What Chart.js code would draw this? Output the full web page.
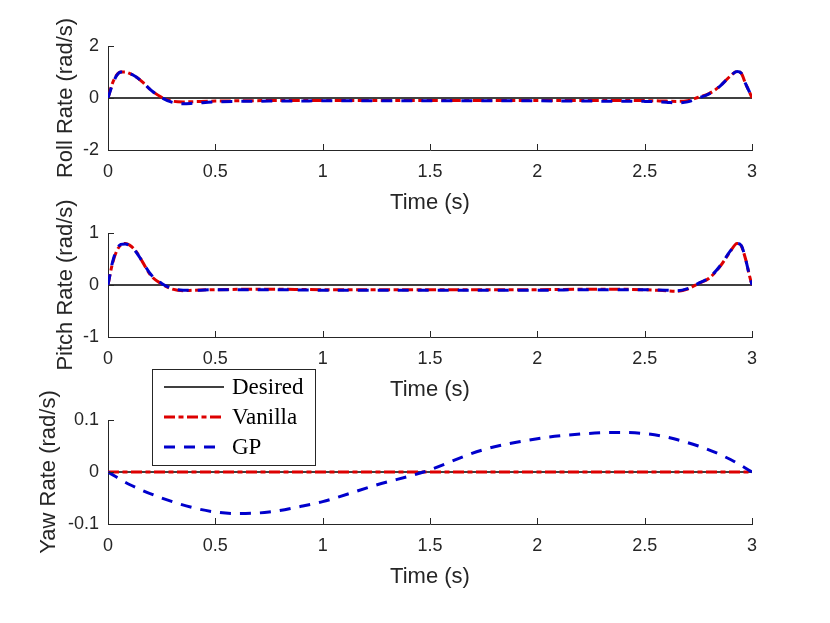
<!DOCTYPE html>
<html>
<head>
<meta charset="utf-8">
<script src="https://cdn.jsdelivr.net/npm/chart.js@4.4.1/dist/chart.umd.min.js"></script>
<style>
  html, body { margin: 0; padding: 0; background: #fff; }
  #fig { position: relative; width: 830px; height: 623px; overflow: hidden; }
  #fig canvas { position: absolute; left: 0; }
</style>
</head>
<body>
<div id="fig">
  <canvas id="roll"></canvas>
  <canvas id="pitch"></canvas>
  <canvas id="yaw"></canvas>
</div>
<script>
// time samples (s) for roll / pitch traces
const tAtt = [0, 0.02, 0.04, 0.06, 0.08, 0.1, 0.13, 0.16, 0.2, 0.25, 0.3, 0.35, 0.4, 0.5, 0.75, 1, 1.25, 1.5, 1.75, 2, 2.25, 2.5, 2.6, 2.65, 2.7, 2.75, 2.8, 2.85, 2.9, 2.93, 2.95, 2.97, 2.99, 3];

const rollVanilla = [0, 0.55, 0.88, 1.0, 1.0, 0.95, 0.82, 0.62, 0.3, 0.03, -0.12, -0.15, -0.14, -0.12, -0.1, -0.1, -0.1, -0.1, -0.1, -0.1, -0.1, -0.1, -0.12, -0.13, -0.1, 0.03, 0.17, 0.45, 0.85, 1.02, 0.95, 0.55, 0.2, 0];
const rollGP = [0, 0.5, 0.86, 1.0, 1.0, 0.95, 0.82, 0.62, 0.3, 0.01, -0.17, -0.22, -0.2, -0.15, -0.12, -0.11, -0.11, -0.11, -0.11, -0.11, -0.12, -0.13, -0.16, -0.19, -0.15, 0.0, 0.16, 0.45, 0.85, 1.02, 0.95, 0.55, 0.2, 0];

const pitchVanilla = [0, 0.4, 0.65, 0.77, 0.8, 0.77, 0.65, 0.45, 0.18, 0.02, -0.08, -0.11, -0.1, -0.09, -0.08, -0.09, -0.09, -0.09, -0.09, -0.09, -0.08, -0.09, -0.11, -0.12, -0.08, 0.03, 0.13, 0.35, 0.65, 0.8, 0.75, 0.5, 0.15, 0];
const pitchGP = [0, 0.42, 0.68, 0.78, 0.79, 0.76, 0.64, 0.45, 0.2, 0.03, -0.07, -0.1, -0.1, -0.09, -0.09, -0.1, -0.1, -0.1, -0.1, -0.1, -0.09, -0.09, -0.1, -0.11, -0.07, 0.03, 0.14, 0.36, 0.66, 0.8, 0.76, 0.5, 0.15, 0];

// yaw traces
const tYaw = [0, 0.1, 0.25, 0.4, 0.5, 0.6, 0.75, 0.9, 1.0, 1.25, 1.47, 1.75, 2.0, 2.2, 2.35, 2.5, 2.75, 2.9, 3];
const yawVanilla = [0, 0, 0, 0, 0, 0, 0, 0, 0, 0, 0, 0, 0, 0, 0, 0, 0, 0, 0];
const yawGP = [0, -0.024, -0.05, -0.069, -0.077, -0.08, -0.077, -0.066, -0.057, -0.025, 0, 0.043, 0.064, 0.073, 0.076, 0.074, 0.05, 0.024, 0];

// desired reference (zero rate)
const tDesired = [0, 3];
const desired = [0, 0];

const timeTicks = [0, 0.5, 1, 1.5, 2, 2.5, 3];
const rollTicks = [-2, 0, 2];
const pitchTicks = [-1, 0, 1];
const yawTicks = [-0.1, 0, 0.1];
const legendNames = ['Desired', 'Vanilla', 'GP'];

const AXIS = '#262626';
const SANS = '"Liberation Sans", Arial, sans-serif';
const PLOT_H = 104;
const XAXIS_H = 66;

const pts = (ts, vs) => ts.map((t, i) => ({ x: t, y: vs[i] }));

// MATLAB style ticks pointing into the axes
const innerTicks = {
  id: 'innerTicks',
  afterDatasetsDraw(chart) {
    const { ctx, chartArea: a, scales: { x, y } } = chart;
    ctx.save();
    ctx.strokeStyle = AXIS;
    ctx.lineWidth = 1;
    ctx.beginPath();
    x.ticks.forEach(t => {
      const px = Math.round(x.getPixelForValue(t.value)) + 0.5;
      ctx.moveTo(px, a.bottom);
      ctx.lineTo(px, a.bottom - 6);
    });
    y.ticks.forEach(t => {
      const py = Math.round(y.getPixelForValue(t.value)) + 0.5;
      ctx.moveTo(a.left, py);
      ctx.lineTo(a.left + 6, py);
    });
    ctx.stroke();
    ctx.restore();
  }
};

// boxed legend sitting above the yaw axes
const boxLegend = {
  id: 'boxLegend',
  afterDraw(chart) {
    const { ctx, chartArea: a } = chart;
    const x0 = Math.round(a.left) + 44, y0 = Math.round(a.top) - 51, w = 163, h = 96;
    ctx.save();
    ctx.fillStyle = '#fff';
    ctx.fillRect(x0, y0, w, h);
    ctx.strokeStyle = AXIS;
    ctx.lineWidth = 1;
    ctx.strokeRect(x0 + 0.5, y0 + 0.5, w, h);
    legendNames.forEach((name, i) => {
      const ds = chart.data.datasets.find(d => d.label === name);
      const yy = y0 + 18 + i * 30;
      ctx.setLineDash(ds.borderDash || []);
      ctx.strokeStyle = ds.borderColor;
      ctx.lineWidth = ds.borderWidth;
      ctx.beginPath();
      ctx.moveTo(x0 + 12, yy);
      ctx.lineTo(x0 + 72, yy);
      ctx.stroke();
      ctx.setLineDash([]);
      ctx.fillStyle = '#000';
      ctx.font = '23px "Liberation Serif", "Times New Roman", serif';
      ctx.textBaseline = 'middle';
      ctx.fillText(name, x0 + 80, yy + 1);
    });
    ctx.restore();
  }
};

function makeChart(id, top, padTop, ts, vanilla, gp, yTicks, yLabel, titlePad, extra) {
  const cv = document.getElementById(id);
  const h = padTop + PLOT_H + XAXIS_H;
  cv.style.top = top + 'px';
  cv.width = 830;
  cv.height = h;
  return new Chart(cv, {
    type: 'line',
    data: {
      datasets: [
        {
          label: 'Desired', data: pts(tDesired, desired),
          borderColor: '#000', borderWidth: 1.5, pointRadius: 0, order: 3
        },
        {
          label: 'Vanilla', data: pts(ts, vanilla),
          borderColor: '#dd0000', borderWidth: 3, borderDash: [11, 3.5, 5, 3.5],
          pointRadius: 0, cubicInterpolationMode: 'monotone', order: 2
        },
        {
          label: 'GP', data: pts(ts, gp),
          borderColor: '#0000cc', borderWidth: 3, borderDash: [11, 9],
          pointRadius: 0, cubicInterpolationMode: 'monotone', order: 1
        }
      ]
    },
    options: {
      responsive: false,
      animation: false,
      devicePixelRatio: 1,
      layout: { padding: { left: 0, right: 78, top: padTop, bottom: 0 } },
      plugins: { legend: { display: false }, tooltip: { enabled: false } },
      scales: {
        x: {
          type: 'linear', min: 0, max: 3,
          afterBuildTicks: s => { s.ticks = timeTicks.map(v => ({ value: v })); },
          afterFit: s => { s.height = XAXIS_H; },
          grid: { display: false },
          border: { display: true, color: AXIS, width: 1 },
          ticks: { color: AXIS, font: { family: SANS, size: 18 }, padding: 3.5, maxRotation: 0,
                   callback: v => String(v) },
          title: { display: true, text: 'Time (s)', color: AXIS,
                   font: { family: SANS, size: 22, lineHeight: 1.2 }, padding: { top: 0, bottom: 0 } }
        },
        y: {
          min: yTicks[0], max: yTicks[yTicks.length - 1],
          afterBuildTicks: s => { s.ticks = yTicks.map(v => ({ value: v })); },
          afterFit: s => { s.width = 108; },
          grid: { display: false },
          border: { display: true, color: AXIS, width: 1 },
          ticks: { color: AXIS, font: { family: SANS, size: 18 }, padding: 1,
                   callback: v => String(Number(v.toFixed(2))) },
          title: { display: true, text: yLabel, color: AXIS,
                   font: { family: SANS, size: 22, lineHeight: 1.2 }, padding: { top: titlePad, bottom: 0 } }
        }
      }
    },
    plugins: [innerTicks].concat(extra || [])
  });
}

makeChart('roll', 0, 46, tAtt, rollVanilla, rollGP, rollTicks, 'Roll Rate (rad/s)', 53);
makeChart('pitch', 187, 46, tAtt, pitchVanilla, pitchGP, pitchTicks, 'Pitch Rate (rad/s)', 53);
makeChart('yaw', 355, 65, tYaw, yawVanilla, yawGP, yawTicks, 'Yaw Rate (rad/s)', 36, [boxLegend]);
</script>
</body>
</html>
